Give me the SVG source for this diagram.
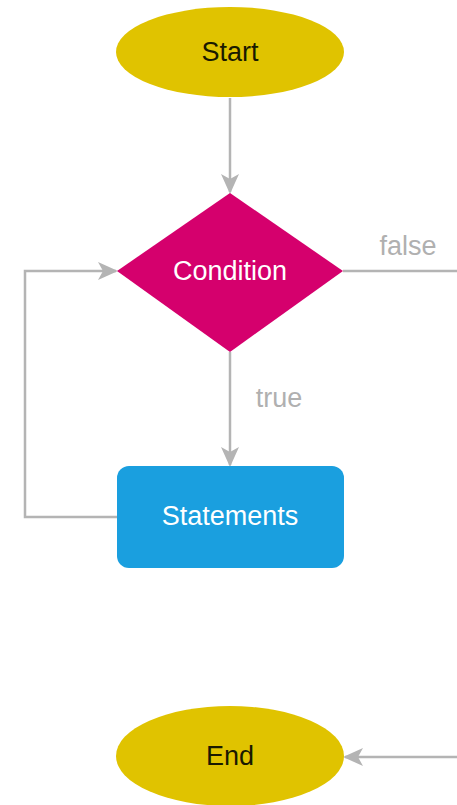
<svg xmlns="http://www.w3.org/2000/svg" width="457" height="805" viewBox="0 0 457 805">
<style>
.lbl{font-family:"Liberation Sans",Arial,sans-serif;font-size:27px;text-anchor:middle;dominant-baseline:central}
.dark{fill:#1a1a00}
.light{fill:#ffffff}
.edge{fill:none;stroke:#b4b4b4;stroke-width:2.5}
.elab{font-family:"Liberation Sans",Arial,sans-serif;font-size:27px;fill:#b0b0b0;text-anchor:middle;dominant-baseline:central}
</style>
<defs>
<marker id="arr" viewBox="0 0 20 20" refX="18" refY="10" markerWidth="20" markerHeight="20" markerUnits="userSpaceOnUse" orient="auto">
<path d="M0,1 L20,10 L0,19 L5,10 Z" fill="#b4b4b4"/>
</marker>
</defs>
<rect width="457" height="805" fill="#ffffff"/>
<g id="connectors">
<line class="edge" x1="230" y1="98" x2="230" y2="192" marker-end="url(#arr)"/>
<line class="edge" x1="230" y1="352" x2="230" y2="465" marker-end="url(#arr)"/>
<polyline class="edge" points="117,517 25,517 25,271 116,271" marker-end="url(#arr)"/>
<line class="edge" x1="343" y1="271" x2="457" y2="271"/>
<line class="edge" x1="457" y1="757" x2="345" y2="757" marker-end="url(#arr)"/>
<text class="elab" x="408" y="246">false</text>
<text class="elab" x="279" y="398">true</text>
</g>
<g id="start">
<ellipse cx="230" cy="52" rx="114" ry="45" fill="#e0c300"/>
<text class="lbl dark" x="230" y="52">Start</text>
</g>
<g id="condition">
<polygon points="230,193 343,271 230,352 117,271" fill="#d5006d"/>
<text class="lbl light" x="230" y="271">Condition</text>
</g>
<g id="statements">
<rect x="117" y="466" width="227" height="102" rx="12" fill="#1a9fdf"/>
<text class="lbl light" x="230" y="516">Statements</text>
</g>
<g id="end">
<ellipse cx="230" cy="756" rx="114" ry="50" fill="#e0c300"/>
<text class="lbl dark" x="230" y="756">End</text>
</g>
</svg>
